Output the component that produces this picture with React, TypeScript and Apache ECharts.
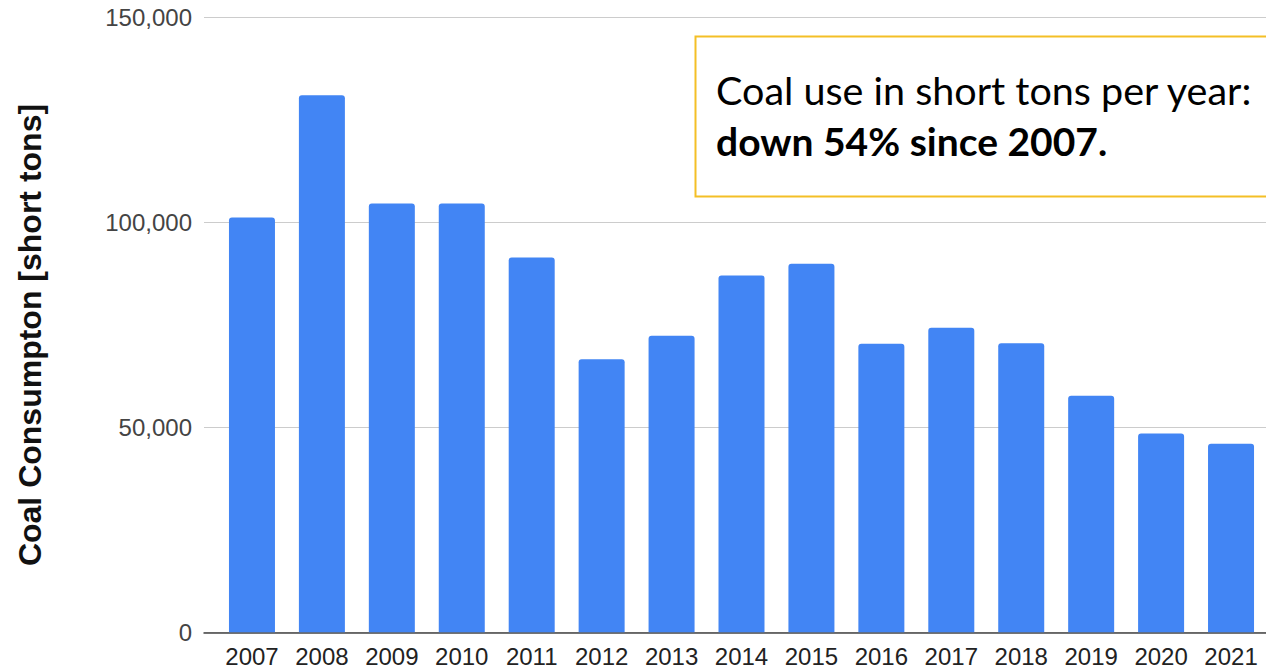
import React, { useEffect, useRef } from "react";
import * as echarts from "echarts";

const years = ["2007", "2008", "2009", "2010", "2011", "2012", "2013", "2014", "2015", "2016", "2017", "2018", "2019", "2020", "2021"];
const coalTons = [101200, 131000, 104600, 104600, 91400, 66600, 72300, 87000, 89900, 70400, 74300, 70500, 57700, 48500, 46000];
const yTickMax = 150000;
const yTickStep = 50000;
const yAxisTitle = "Coal Consumpton [short tons]";
const noteLine1 = "Coal use in short tons per year:";
const noteLine2 = "down 54% since 2007.";

export default function App() {
  const ref = useRef<HTMLDivElement>(null);
  useEffect(() => {
    if (!ref.current) return;
    const chart = echarts.init(ref.current, undefined, { renderer: "svg" });
    const gridTop = 17.3;
    const gridBottom = 37.7;
    chart.setOption({
      animation: false,
      backgroundColor: "#ffffff",
      textStyle: { fontFamily: "Liberation Sans, Arial, sans-serif" },
      grid: [
        { left: 204, right: 0, top: gridTop, bottom: gridBottom },
        { left: 217, width: 1050, top: gridTop, bottom: gridBottom },
      ],
      xAxis: [
        {
          type: "value",
          gridIndex: 0,
          min: 0,
          max: 1,
          axisLabel: { show: false },
          axisTick: { show: false },
          splitLine: { show: false },
          axisLine: { show: true, lineStyle: { color: "#444", width: 1.5 } },
        },
        {
          type: "category",
          gridIndex: 1,
          data: years,
          axisLine: { show: false },
          axisTick: { show: false },
          axisLabel: { color: "#222", fontSize: 24, margin: 12, fontFamily: "Liberation Sans, Arial, sans-serif" },
        },
      ],
      yAxis: [
        {
          type: "value",
          gridIndex: 0,
          min: 0,
          max: yTickMax,
          interval: yTickStep,
          axisLine: { show: false },
          axisTick: { show: false },
          axisLabel: {
            color: "#444",
            fontSize: 24,
            margin: 12,
            fontFamily: "Liberation Sans, Arial, sans-serif",
            formatter: (v: number) => v.toLocaleString("en-US"),
          },
          splitLine: { show: true, lineStyle: { color: "#cccccc", width: 1 } },
        },
        {
          type: "value",
          gridIndex: 1,
          min: 0,
          max: yTickMax,
          show: false,
          splitLine: { show: false },
        },
      ],
      series: [
        {
          type: "bar",
          xAxisIndex: 1,
          yAxisIndex: 1,
          data: coalTons,
          barWidth: 46,
          itemStyle: { color: "#4285f4", borderRadius: [3, 3, 0, 0] },
        },
      ],
      graphic: [
        {
          type: "text",
          x: 30,
          y: 335,
          rotation: Math.PI / 2,
          style: {
            text: yAxisTitle,
            font: "bold 32px 'Liberation Sans', Arial, sans-serif",
            fill: "#111",
            align: "center",
            verticalAlign: "middle",
          },
        },
        {
          type: "rect",
          z: 100,
          shape: { x: 695.5, y: 36.5, width: 700, height: 160 },
          style: { fill: "#ffffff", stroke: "#f4bf26", lineWidth: 2 },
        },
        {
          type: "text",
          z: 101,
          x: 716,
          y: 89,
          style: { text: noteLine1, font: "39.5px Lato", fill: "#000", align: "left", verticalAlign: "middle" },
        },
        {
          type: "text",
          z: 101,
          x: 716,
          y: 141,
          style: { text: noteLine2, font: "bold 39px Lato", fill: "#000", align: "left", verticalAlign: "middle" },
        },
      ],
    });
    return () => chart.dispose();
  }, []);
  return <div ref={ref} style={{ position: "fixed", left: 0, top: 0, width: 1266, height: 670 }} />;
}
